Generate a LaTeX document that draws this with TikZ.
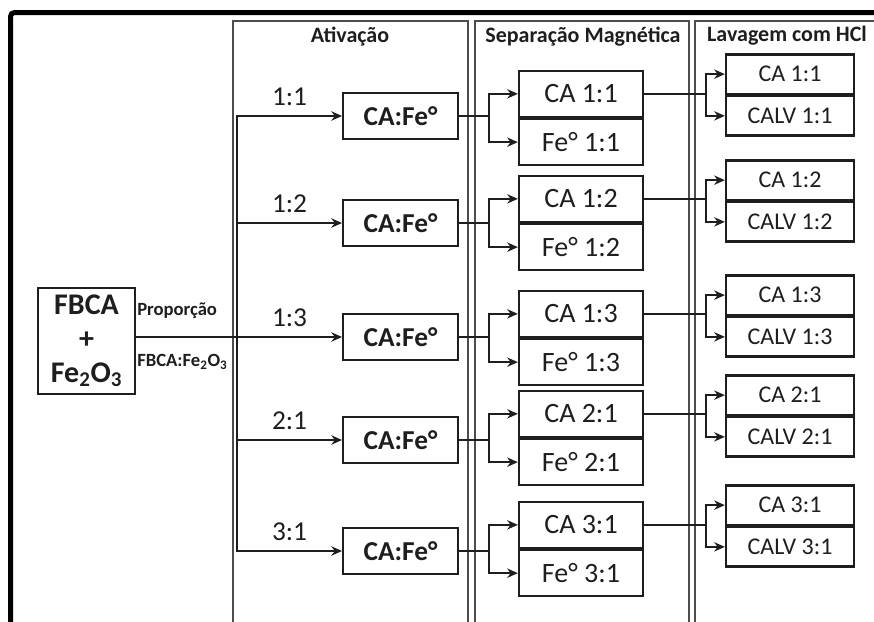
\documentclass[tikz,border=0pt]{standalone}
\usepackage{fontspec}
\setmainfont{Carlito}
\usetikzlibrary{positioning, calc, arrows.meta}

\definecolor{inkgray}{HTML}{1e1e1e}
\definecolor{panelgray}{HTML}{4d4d4d}

\tikzset{
  conn/.style={line width=2pt, draw=inkgray},
  arr/.style={conn, -{Stealth[length=8pt,width=7pt]}},
  panelbox/.style={line width=1.8pt, draw=panelgray},
  heading/.style={font=\fontsize{16.5}{19}\selectfont\bfseries, text=inkgray},
  ratio/.style={font=\fontsize{20.5}{24}\selectfont, text=inkgray, inner sep=0pt},
  smalltxt/.style={font=\fontsize{14}{16}\selectfont\bfseries, text=inkgray, inner sep=0pt},
  feedbox/.style={draw=inkgray, line width=1.7pt, minimum width=72.75pt, minimum height=80pt,
    inner sep=0pt, align=center, font=\fontsize{22.5}{25.5}\selectfont\bfseries, text=inkgray},
  cafebox/.style={draw=inkgray, line width=1.7pt, minimum width=86pt, minimum height=35pt,
    inner sep=0pt, font=\fontsize{20.5}{24}\selectfont\bfseries, text=inkgray},
  sepcell/.style={draw=inkgray, line width=1.7pt, minimum width=93pt, minimum height=34.5pt,
    inner sep=0pt, font=\fontsize{21}{24}\selectfont, text=inkgray},
  lavcell/.style={draw=inkgray, line width=1.7pt, minimum width=96pt, minimum height=29.6pt,
    inner sep=0pt, font=\fontsize{18}{21}\selectfont, text=inkgray}
}

\begin{document}
\begin{tikzpicture}[x=0.75pt, y=-0.75pt]
  \useasboundingbox (0,0) rectangle (874,621);

  % Frame and stage panels
  \draw[line width=3.75pt, rounded corners=3pt] (10.5,660) -- (10.5,12.5) -- (900,12.5);
  \draw[panelbox] (233,21) rectangle (468,660);
  \draw[panelbox] (475,21) rectangle (689,660);
  \draw[panelbox] (695,21) rectangle (900,660);

  % Stage headings
  \node[heading] (hact) at (350,37) {Ativação};
  \node[heading] (hsep) at (583,37) {Separação Magnética};
  \node[heading] (hlav) at (787,36) {Lavagem com HCl};

  % Feed
  \node[feedbox] (feed) at (86.5,341) {FBCA\\+\\Fe\textsubscript{2}O\textsubscript{3}};
  \node[smalltxt, anchor=west] (prop) at (137,311) {Proporção};
  \node[smalltxt, anchor=west] (propratio) at (137,362) {FBCA:Fe\textsubscript{2}O\textsubscript{3}};

  % Rows: label / y of activation box / y of separation split / y of washing split
  \foreach \r/\lab/\ya/\ys/\yl in {1/1:1/116/118/95, 2/1:2/223/223/201, 3/1:3/337/338/316,
                                    4/2:1/440/438/416, 5/3:1/551/549/526} {
    \coordinate (t\r) at (237,\ya);
    \node[cafebox] (cafe\r) at (400.5,\ya) {CA:Fe°};
    \node[sepcell, anchor=south] (sepca\r) at (581,\ys) {CA \lab};
    \node[sepcell, anchor=north] (sepfe\r) at (581,\ys) {Fe° \lab};
    \node[lavcell, anchor=south] (lavca\r) at (790,\yl) {CA \lab};
    \node[lavcell, anchor=north] (lavcv\r) at (790,\yl) {CALV \lab};

    \draw[arr] (t\r) -- node[ratio, above=7pt] {\lab} (cafe\r.west);
    \coordinate (fa\r) at ($(cafe\r.east)+(30,0)$);
    \draw[conn] (cafe\r.east) -- (fa\r);
    \draw[arr] (fa\r) |- (sepca\r.west);
    \draw[arr] (fa\r) |- (sepfe\r.west);
    \coordinate (fb\r) at ($(sepca\r.east)+(62,0)$);
    \draw[conn] (sepca\r.east) -- (fb\r);
    \draw[arr] (fb\r) |- (lavca\r.west);
    \draw[arr] (fb\r) |- (lavcv\r.west);
  }

  % Trunk
  \draw[conn, line cap=rect] (t1) -- (t5);
  \draw[conn] (feed.east |- t3) -- (t3);
\end{tikzpicture}
\end{document}
